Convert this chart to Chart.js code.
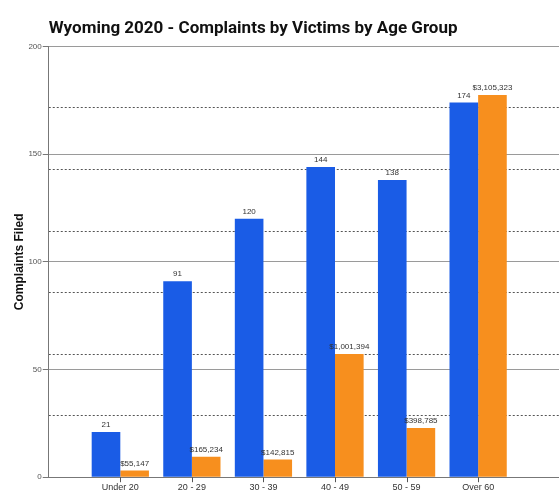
<!DOCTYPE html>
<html>
<head>
<meta charset="utf-8">
<script src="https://cdn.jsdelivr.net/npm/chart.js@4/dist/chart.umd.min.js"></script>
<style>
  html, body { margin: 0; padding: 0; background: #fff; }
  #wrap { width: 559px; height: 500px; }
</style>
</head>
<body>
<div id="wrap"><canvas id="chart"></canvas></div>
<script>
// age groups and the two series
const ageGroups = ["Under 20", "20 - 29", "30 - 39", "40 - 49", "50 - 59", "Over 60"];
const complaints = [21, 91, 120, 144, 138, 174];
const losses = [55147, 165234, 142815, 1001394, 398785, 3105323];
const countTicks = [0, 50, 100, 150, 200];

const blue = "#1a5ce6";
const orange = "#f78f1e";

// small labels over every bar
const barLabels = {
  id: "barLabels",
  afterDatasetsDraw(chart) {
    const ctx = chart.ctx;
    ctx.save();
    ctx.font = "8px 'Liberation Sans', Arial, sans-serif";
    ctx.fillStyle = "#333";
    ctx.textAlign = "center";
    ctx.textBaseline = "bottom";
    chart.data.datasets.forEach((ds, i) => {
      chart.getDatasetMeta(i).data.forEach((bar, j) => {
        const v = ds.data[j].y;
        const txt = i === 0 ? String(v) : "$" + v.toLocaleString("en-US");
        ctx.fillText(txt, bar.x, bar.y - 3);
      });
    });
    ctx.restore();
  }
};

// short tick marks under the x axis at each age group
const xTickMarks = {
  id: "xTickMarks",
  afterDraw(chart) {
    const xs = chart.scales.x;
    const ctx = chart.ctx;
    const y0 = chart.chartArea.bottom;
    ctx.save();
    ctx.strokeStyle = "#555";
    ctx.lineWidth = 1;
    ageGroups.forEach((g, i) => {
      const px = Math.round(xs.getPixelForValue(i + 1)) + 0.5;
      ctx.beginPath();
      ctx.moveTo(px, y0);
      ctx.lineTo(px, y0 + 5);
      ctx.stroke();
    });
    ctx.restore();
  }
};

new Chart(document.getElementById("chart"), {
  type: "bar",
  data: {
    datasets: [
      {
        label: "Complaints",
        data: complaints.map((v, i) => ({ x: i + 1, y: v })),
        backgroundColor: blue,
        yAxisID: "y",
        categoryPercentage: 0.8,
        barPercentage: 1.0
      },
      {
        label: "Losses",
        data: losses.map((v, i) => ({ x: i + 1, y: v })),
        backgroundColor: orange,
        yAxisID: "y1",
        categoryPercentage: 0.8,
        barPercentage: 1.0
      }
    ]
  },
  options: {
    responsive: true,
    maintainAspectRatio: false,
    animation: false,
    layout: { padding: { left: 5, right: 0, top: 0, bottom: 2 } },
    plugins: {
      legend: { display: false },
      tooltip: { enabled: false },
      title: {
        display: true,
        text: "Wyoming 2020 - Complaints by Victims by Age Group",
        align: "start",
        fullSize: false,
        color: "#111",
        font: { family: "Roboto", size: 17, weight: "bold" },
        padding: { top: 19, bottom: 7 }
      }
    },
    scales: {
      x: {
        type: "linear",
        min: 0,
        max: 7.13,
        offset: false,
        afterBuildTicks: s => {
          s.ticks = s.ticks.filter(t => t.value >= 1 && t.value <= ageGroups.length);
        },
        ticks: {
          stepSize: 1,
          autoSkip: false,
          maxRotation: 0,
          padding: 5,
          color: "#333",
          font: { family: "Liberation Sans", size: 9 },
          callback: v => ageGroups[v - 1] || ""
        },
        grid: { display: false, drawTicks: false },
        border: { display: true, color: "#777" }
      },
      y: {
        position: "left",
        min: 0,
        max: 200,
        z: 1,
        afterBuildTicks: s => { s.ticks = countTicks.map(v => ({ value: v })); },
        ticks: {
          padding: 1,
          color: "#555",
          font: { family: "Liberation Sans", size: 8 }
        },
        grid: {
          color: c => (c.tick && c.tick.value === 0 ? "transparent" : "#9a9a9a"),
          tickColor: "#777",
          tickLength: 6
        },
        border: { color: "#777" },
        title: {
          display: true,
          text: "Complaints Filed",
          color: "#111",
          font: { family: "Liberation Sans", size: 12, weight: "bold" },
          padding: { top: 7, bottom: 1 }
        }
      },
      y1: {
        position: "right",
        min: 0,
        max: 3500000,
        z: 1,
        ticks: { display: false, stepSize: 500000 },
        grid: {
          drawTicks: false,
          lineWidth: 1,
          color: c => (c.tick && (c.tick.value === 0 || c.tick.value === 3500000) ? "transparent" : "#555")
        },
        border: { display: false, dash: [2, 2] },
        afterFit: s => { s.width = 0; }
      }
    }
  },
  plugins: [barLabels, xTickMarks]
});
</script>
</body>
</html>
